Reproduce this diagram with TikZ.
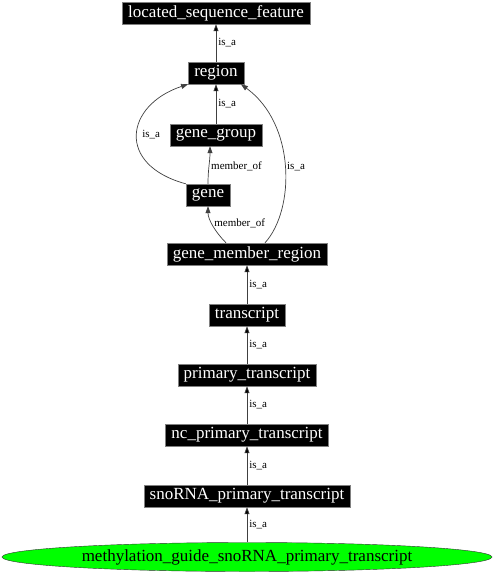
\documentclass[tikz,border=0pt]{standalone}
\usepackage{fontspec}
\setmainfont{Liberation Serif}
\usetikzlibrary{arrows.meta,shapes.geometric}

\tikzset{
	term/.style={shape=rectangle,fill=black,draw=gray,text=white,inner xsep=6pt,inner ysep=2pt,minimum height=22pt,font=\fontsize{17}{20}\selectfont},
	leaf/.style={shape=ellipse,fill=green,draw=black!80,inner sep=0pt,minimum width=490pt,minimum height=29pt,font=\fontsize{17}{20}\selectfont},
	rel/.style={draw=black!75,line width=0.7pt,-{Triangle[width=5pt,length=7pt]}},
	lab/.style={font=\fontsize{11}{13}\selectfont,inner sep=2pt}
}

\begin{document}
\begin{tikzpicture}[x=1pt,y=-1pt]
	\useasboundingbox (0,0) rectangle (494,576);
	\node[term] (lsf) at (216, 13) {located\_sequence\_feature};
	\node[term] (region) at (216, 73) {region};
	\node[term] (ggroup) at (216, 135) {gene\_group};
	\node[term] (gene) at (208, 195) {gene};
	\node[term] (gmr) at (247, 254) {gene\_member\_region};
	\node[term] (tr) at (247, 315) {transcript};
	\node[term] (ptr) at (247, 375) {primary\_transcript};
	\node[term] (nptr) at (247, 435) {nc\_primary\_transcript};
	\node[term] (sptr) at (247, 496) {snoRNA\_primary\_transcript};
	\node[leaf] (mgs) at (247, 557) {methylation\_guide\_snoRNA\_primary\_transcript};
	\path[rel] (region) edge node[lab,right] {is\_a} (lsf);
	\path[rel] (ggroup) edge node[lab,right] {is\_a} (region);
	\path[rel] (gene.north) .. controls +(0,-15) and +(0,15) .. node[lab,right,pos=0.45] {member\_of} ([xshift=-6pt]ggroup.south);
	\path[rel] (gene.north west) .. controls +(-70,-19) and +(-63,21) .. node[lab,right=3pt,pos=0.5] {is\_a} (region.south west);
	\path[rel] ([xshift=-21pt]gmr.north) .. controls +(-11,-11) and +(0,13) .. node[lab,right,pos=0.55] {member\_of} (gene.south);
	\path[rel] ([xshift=18pt]gmr.north) .. controls +(30,-33) and +(55,40) .. node[lab,right,pos=0.5] {is\_a} ([xshift=-3pt]region.south east);
	\path[rel] (tr) edge node[lab,right] {is\_a} (gmr);
	\path[rel] (ptr) edge node[lab,right] {is\_a} (tr);
	\path[rel] (nptr) edge node[lab,right] {is\_a} (ptr);
	\path[rel] (sptr) edge node[lab,right] {is\_a} (nptr);
	\path[rel] (mgs) edge node[lab,right] {is\_a} (sptr);
\end{tikzpicture}
\end{document}
